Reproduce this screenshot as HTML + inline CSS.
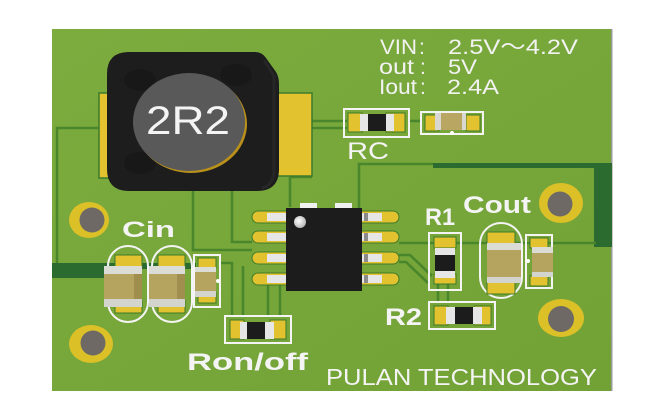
<!DOCTYPE html>
<html><head><meta charset="utf-8"><style>
html,body{margin:0;padding:0;background:#fff;width:649px;height:414px;overflow:hidden}
svg{display:block}
</style></head><body>
<svg width="649" height="414" viewBox="0 0 649 414" xmlns="http://www.w3.org/2000/svg">
<defs>
<linearGradient id="bg" x1="0" y1="0" x2="1" y2="1">
<stop offset="0" stop-color="#7cac3e"/><stop offset="1" stop-color="#72a236"/>
</linearGradient>
<radialGradient id="dot" cx="0.4" cy="0.4" r="0.6"><stop offset="0" stop-color="#fff"/><stop offset="1" stop-color="#b8b8b8"/></radialGradient>
</defs>
<rect width="649" height="414" fill="#fff"/>
<!-- board -->
<rect x="52" y="29" width="560" height="362" fill="url(#bg)"/>
<rect x="611" y="29" width="1.5" height="362" fill="#9a9a9a"/>

<!-- thick copper -->
<rect x="52" y="263" width="52" height="15" fill="#2b6b30"/>
<rect x="104" y="263" width="92" height="6" fill="#2b6b30"/>
<rect x="433" y="163" width="179" height="5" fill="#2b6b30"/>
<rect x="594" y="163" width="18" height="84" fill="#2b6b30"/>

<!-- traces -->
<g fill="none" stroke="#4a872c" stroke-width="2.6">
<path d="M57,263 V128 H100"/>
<path d="M193,191 V250 H252"/>
<path d="M232,191 V242 H252"/>
<path d="M290,177 V207"/>
<path d="M290,177 H312"/>
<path d="M359,245 V164 H433"/>
<path d="M399,243 H596"/>
<path d="M312,121 H347"/>
<path d="M312,128 H347"/>
<path d="M409,121 H421"/>
<path d="M399,255 H410 L432,276"/>
<path d="M399,262 H406 L428,283"/>
<path d="M438,283 V302"/>
<path d="M448,283 V302"/>
<path d="M220,263 H232 V316"/>
<path d="M243,266 V316"/>
<path d="M268,285 V316"/>
<path d="M280,285 V316"/>
</g>

<!-- inductor pads -->
<g fill="#e2c22e" stroke="#3d7a2a" stroke-width="1.5">
<rect x="99" y="93" width="14" height="85"/>
<rect x="272" y="93" width="40" height="83"/>
</g>
<!-- inductor body -->
<path d="M129,52 H255 Q262,52 266,58 L276,72 Q279,77 279,84 V169 Q279,191 257,191 H129 Q107,191 107,169 V74 Q107,52 129,52 Z" fill="#1d1d1d"/>
<path d="M264,60 L274,76 V169 Q274,185 262,188" fill="none" stroke="#262626" stroke-width="3"/>
<g fill="#181818">
<ellipse cx="140" cy="80" rx="16" ry="11"/>
<ellipse cx="236" cy="75" rx="16" ry="11"/>
<ellipse cx="140" cy="163" rx="16" ry="11"/>
</g>
<ellipse cx="191" cy="124" rx="56" ry="49" fill="#b8901a"/>
<ellipse cx="189" cy="122" rx="56" ry="49" fill="#595959"/>
<text x="146" y="134" font-family="Liberation Sans, sans-serif" font-size="40" fill="#f4f4f4" textLength="84" lengthAdjust="spacingAndGlyphs">2R2</text>

<!-- top-right text -->
<g font-family="Liberation Sans, 'Noto Sans CJK SC', sans-serif" font-size="21" fill="#f2f2f2">
<text x="380" y="54" textLength="37" lengthAdjust="spacingAndGlyphs">VIN</text>
<text x="419" y="54">:</text>
<text x="448" y="54" textLength="130" lengthAdjust="spacingAndGlyphs">2.5V～4.2V</text>
<text x="379" y="74" textLength="35" lengthAdjust="spacingAndGlyphs">out</text>
<text x="420" y="74">:</text>
<text x="448" y="74" textLength="29" lengthAdjust="spacingAndGlyphs">5V</text>
<text x="379" y="94" textLength="38" lengthAdjust="spacingAndGlyphs">Iout</text>
<text x="420" y="94">:</text>
<text x="447" y="94" textLength="52" lengthAdjust="spacingAndGlyphs">2.4A</text>
</g>

<!-- RC resistor -->
<rect x="344" y="109" width="65" height="28" fill="none" stroke="#f4f4f4" stroke-width="2"/>
<g fill="#e2c22e" stroke="#3d7a2a" stroke-width="1"><rect x="348" y="113" width="14" height="19"/><rect x="386" y="113" width="19" height="19"/></g>
<rect x="360" y="114" width="8" height="17" fill="#e6e6e6"/><rect x="368" y="114" width="18" height="17" fill="#1c1c1c"/><rect x="386" y="114" width="8" height="17" fill="#e6e6e6"/>
<text x="347" y="159" font-family="Liberation Sans, sans-serif" font-size="24" fill="#f4f4f4" textLength="42" lengthAdjust="spacingAndGlyphs">RC</text>

<!-- cap right of RC -->
<rect x="421" y="112" width="62" height="22" fill="none" stroke="#f4f4f4" stroke-width="2"/>
<g fill="#e2c22e" stroke="#3d7a2a" stroke-width="1"><rect x="425" y="115" width="14" height="16"/><rect x="466" y="115" width="14" height="16"/></g>
<rect x="435" y="113" width="6" height="17" fill="#d8d8d0"/><rect x="441" y="113" width="21" height="17" fill="#b8a662"/><rect x="462" y="113" width="4" height="17" fill="#d8d8d0"/>
<circle cx="452" cy="133" r="2" fill="#fff"/>

<!-- vias -->
<g>
<ellipse cx="89" cy="220" rx="20" ry="18" fill="#dcc028"/><circle cx="92" cy="220" r="12.5" fill="#6e6965"/>
<ellipse cx="91" cy="344" rx="22" ry="19" fill="#dcc028"/><circle cx="93" cy="343" r="12.5" fill="#6e6965"/>
<ellipse cx="561" cy="203" rx="22" ry="20" fill="#dcc028"/><circle cx="560" cy="204" r="12.5" fill="#6e6965"/>
<ellipse cx="561" cy="318" rx="23" ry="19" fill="#dcc028"/><circle cx="561" cy="319" r="13" fill="#6e6965"/>
</g>

<!-- labels bold -->
<g font-family="Liberation Sans, sans-serif" font-weight="700" fill="#f4f4f4">
<text x="122" y="237" font-size="22" textLength="53" lengthAdjust="spacingAndGlyphs">Cin</text>
<text x="425" y="225" font-size="24" textLength="30" lengthAdjust="spacingAndGlyphs">R1</text>
<text x="463" y="213" font-size="24" textLength="68" lengthAdjust="spacingAndGlyphs">Cout</text>
<text x="385" y="325" font-size="24" textLength="37" lengthAdjust="spacingAndGlyphs">R2</text>
<text x="187" y="370" font-size="24" textLength="121" lengthAdjust="spacingAndGlyphs">Ron/off</text>
</g>
<text x="326" y="385" font-family="Liberation Sans, sans-serif" font-size="23" fill="#f4f4f4" textLength="271" lengthAdjust="spacingAndGlyphs">PULAN TECHNOLOGY</text>

<!-- Cin caps -->
<g fill="none" stroke="#f4f4f4" stroke-width="2">
<rect x="108" y="246" width="40" height="76" rx="20"/>
<rect x="152" y="246" width="40" height="76" rx="20"/>
<rect x="194" y="255" width="26" height="52"/>
</g>
<g fill="#e2c22e" stroke="#3d7a2a" stroke-width="1">
<rect x="115" y="255" width="27" height="13"/><rect x="115" y="300" width="27" height="13"/>
<rect x="158" y="255" width="27" height="13"/><rect x="158" y="300" width="27" height="13"/>
<rect x="198" y="258" width="18" height="10"/><rect x="198" y="293" width="18" height="10"/>
</g>
<g>
<rect x="104" y="266" width="38" height="8" fill="#dcdcd6"/><rect x="104" y="274" width="30" height="25" fill="#b5a45f"/><rect x="134" y="274" width="8" height="25" fill="#9f8e4e"/><rect x="104" y="299" width="38" height="8" fill="#d4d4ce"/>
<rect x="149" y="266" width="36" height="8" fill="#dcdcd6"/><rect x="149" y="274" width="28" height="25" fill="#b5a45f"/><rect x="177" y="274" width="8" height="25" fill="#9f8e4e"/><rect x="149" y="299" width="36" height="8" fill="#d4d4ce"/>
<rect x="195" y="267" width="21" height="5" fill="#dcdcd6"/><rect x="195" y="272" width="21" height="19" fill="#b5a45f"/><rect x="195" y="291" width="21" height="6" fill="#d4d4ce"/>
<circle cx="218" cy="281" r="2" fill="#fff"/>
</g>

<!-- Ron/off resistor -->
<rect x="225" y="316" width="66" height="27" fill="none" stroke="#f4f4f4" stroke-width="2"/>
<g fill="#e2c22e" stroke="#3d7a2a" stroke-width="1"><rect x="230" y="320" width="14" height="19"/><rect x="270" y="320" width="16" height="19"/></g>
<rect x="240" y="322" width="7" height="17" fill="#e6e6e6"/><rect x="247" y="322" width="18" height="17" fill="#1c1c1c"/><rect x="265" y="322" width="9" height="17" fill="#e6e6e6"/>

<!-- IC -->
<g fill="#e2c22e" stroke="#3d7a2a" stroke-width="1">
<rect x="252" y="211" width="44" height="12" rx="6"/>
<rect x="252" y="231" width="44" height="12" rx="6"/>
<rect x="252" y="252" width="44" height="12" rx="6"/>
<rect x="252" y="273" width="44" height="12" rx="6"/>
<rect x="352" y="211" width="47" height="12" rx="6"/>
<rect x="352" y="231" width="47" height="12" rx="6"/>
<rect x="352" y="252" width="47" height="12" rx="6"/>
<rect x="352" y="273" width="47" height="12" rx="6"/>
</g>
<g fill="#e6e6e6">
<rect x="267" y="213" width="19" height="8"/><rect x="267" y="233" width="19" height="8"/><rect x="267" y="254" width="19" height="8"/><rect x="267" y="275" width="19" height="8"/>
<rect x="362" y="213" width="20" height="8"/><rect x="362" y="233" width="20" height="8"/><rect x="362" y="254" width="20" height="8"/><rect x="362" y="275" width="20" height="8"/>
</g>
<g fill="#8a8a8a">
<rect x="364" y="213" width="4" height="8"/><rect x="364" y="233" width="4" height="8"/><rect x="364" y="254" width="4" height="8"/><rect x="364" y="275" width="4" height="8"/>
</g>
<rect x="300" y="203" width="17" height="6" fill="#f0f0f0"/><rect x="335" y="203" width="17" height="6" fill="#f0f0f0"/>
<rect x="286" y="208" width="76" height="83" fill="#1c1c1c"/>
<circle cx="300" cy="222" r="6" fill="url(#dot)"/>

<!-- R1 -->
<rect x="429" y="233" width="32" height="57" fill="none" stroke="#f4f4f4" stroke-width="2"/>
<g fill="#e2c22e" stroke="#3d7a2a" stroke-width="1"><rect x="434" y="237" width="22" height="11"/><rect x="434" y="274" width="22" height="10"/></g>
<rect x="435" y="248" width="20" height="7" fill="#e6e6e6"/><rect x="435" y="255" width="20" height="16" fill="#1c1c1c"/><rect x="435" y="271" width="20" height="7" fill="#e6e6e6"/>

<!-- Cout -->
<rect x="480" y="223" width="42" height="75" rx="21" fill="none" stroke="#f4f4f4" stroke-width="2"/>
<rect x="526" y="235" width="26" height="53" fill="none" stroke="#f4f4f4" stroke-width="2"/>
<g fill="#e2c22e" stroke="#3d7a2a" stroke-width="1">
<rect x="487" y="232" width="28" height="12"/><rect x="487" y="282" width="28" height="12"/>
<rect x="530" y="238" width="18" height="10"/><rect x="530" y="276" width="18" height="10"/>
</g>
<rect x="487" y="243" width="34" height="7" fill="#dcdcd6"/><rect x="487" y="250" width="34" height="27" fill="#b5a45f"/><rect x="487" y="277" width="34" height="6" fill="#d4d4ce"/>
<rect x="532" y="247" width="21" height="6" fill="#dcdcd6"/><rect x="532" y="253" width="21" height="19" fill="#b5a45f"/><rect x="532" y="272" width="21" height="5" fill="#d4d4ce"/>
<circle cx="528" cy="261" r="2" fill="#fff"/>

<!-- R2 -->
<rect x="429" y="302" width="66" height="27" fill="none" stroke="#f4f4f4" stroke-width="2"/>
<g fill="#e2c22e" stroke="#3d7a2a" stroke-width="1"><rect x="434" y="306" width="14" height="19"/><rect x="474" y="306" width="17" height="19"/></g>
<rect x="446" y="307" width="9" height="17" fill="#e6e6e6"/><rect x="455" y="307" width="18" height="17" fill="#1c1c1c"/><rect x="473" y="307" width="9" height="17" fill="#e6e6e6"/>
</svg>
</body></html>
